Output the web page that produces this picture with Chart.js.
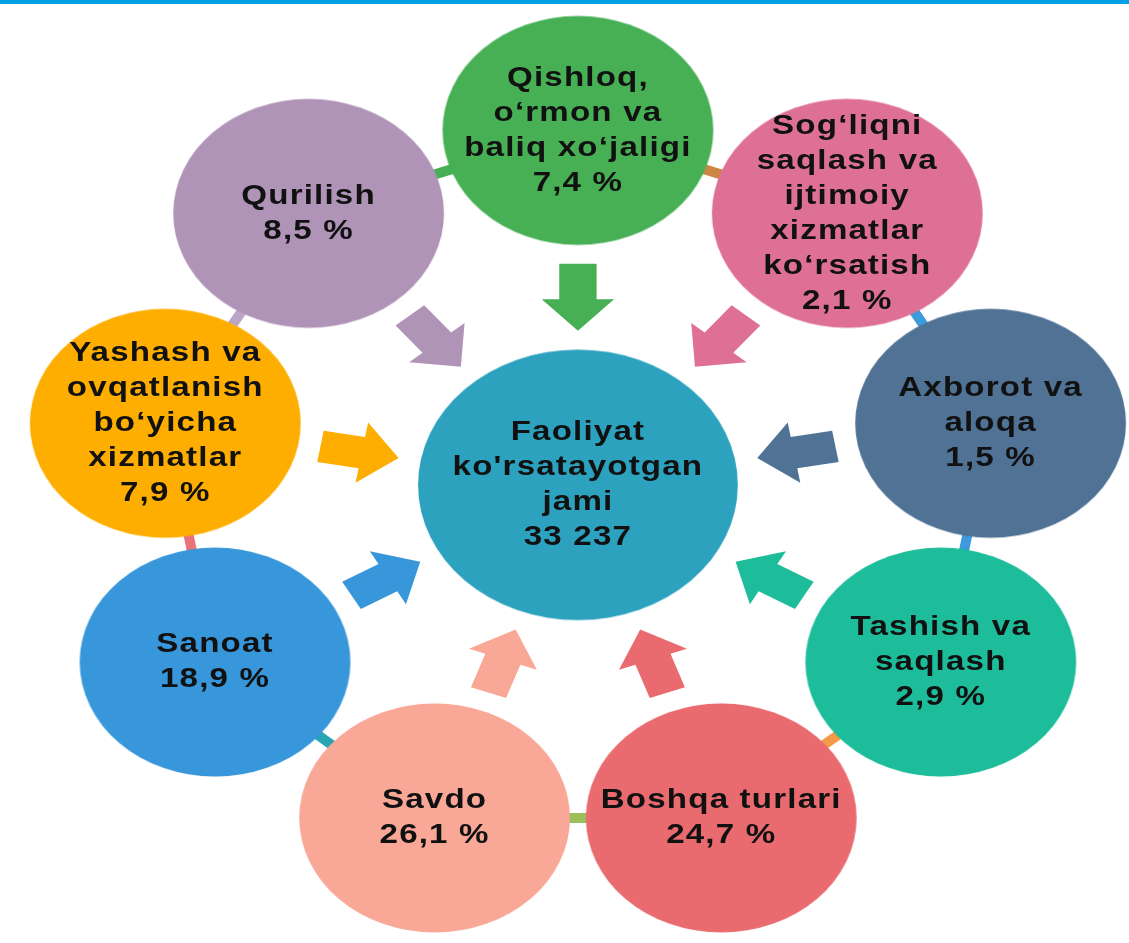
<!DOCTYPE html>
<html>
<head>
<meta charset="utf-8">
<script src="https://cdn.jsdelivr.net/npm/chart.js@4.4.1/dist/chart.umd.min.js"></script>
<style>
  html, body { margin: 0; padding: 0; background: #fff; }
  #wrap { position: relative; width: 1129px; height: 943px; }
  #topbar { position: absolute; left: 0; top: 0; width: 1129px; height: 4px; background: #04a0e6; z-index: 2; }
</style>
</head>
<body>
<div id="wrap">
  <div id="topbar"></div>
  <canvas id="chart"></canvas>
</div>
<script>
// data
const categories = [
  'Qishloq,\no‘rmon va\nbaliq xo‘jaligi',
  'Sog‘liqni\nsaqlash va\nijtimoiy\nxizmatlar\nko‘rsatish',
  'Axborot va\naloqa',
  'Tashish va\nsaqlash',
  'Boshqa turlari',
  'Savdo',
  'Sanoat',
  'Yashash va\novqatlanish\nbo‘yicha\nxizmatlar',
  'Qurilish'
];
const shares = [7.4, 2.1, 1.5, 2.9, 24.7, 26.1, 18.9, 7.9, 8.5];
const totalTitle = "Faoliyat\nko'rsatayotgan\njami";
const totalCount = 33237;

// styles
const nodeColors = ['#47b055', '#de7096', '#4f7295', '#1dbd9b', '#e96b6f', '#f9a797', '#3797da', '#feae00', '#b094b8'];
const linkColors = ['#cd8645', '#3b9bdc', '#3b9bdc', '#f49b48', '#9bbf5b', '#27a5b5', '#e8737a', '#bba5c6', '#47b055'];
const centerColor = '#2da2be';

// layout (data units, 1 unit = 1px vertically)
const RING = 359;
const NODE_R = 116;
const CENTER_R = 137;

//helpers
function fmtShare(v){
    return v.toFixed(1).replace('.', ',') + ' %';
}

function fmtCount(v){
    return String(v).replace(/\B(?=(\d{3})+(?!\d))/g, ' ');
}

function ringPoints(){
    let ans = [];
    let n = categories.length;
    for(let i = 0; i < n; i++){
        let a = i * 2 * Math.PI / n;
        ans.push({x: RING * Math.sin(a), y: RING * Math.cos(a)});
    }
    return ans;
}

function unit(scale){
    return Math.abs(scale.getPixelForValue(1) - scale.getPixelForValue(0));
}

const styleCache = {};
function ellipse(color, r, chart){
    if(!chart.scales || !chart.scales.x) return 'circle';
    let rx = r * unit(chart.scales.x), ry = r * unit(chart.scales.y);
    let key = color + rx.toFixed(2) + ry.toFixed(2);
    if(styleCache[key]) return styleCache[key];
    let c = document.createElement('canvas');
    c.width = Math.ceil(rx * 2) + 2;
    c.height = Math.ceil(ry * 2) + 2;
    let g = c.getContext('2d');
    g.fillStyle = color;
    g.beginPath();
    g.ellipse(c.width / 2, c.height / 2, rx, ry, 0, 0, Math.PI * 2);
    g.fill();
    styleCache[key] = c;
    return c;
}

// arrows pointing to the centre + texts
const overlay = {
    id: 'overlay',
    afterDatasetsDraw(chart){
        const ctx = chart.ctx;
        const xs = chart.scales.x, ys = chart.scales.y;
        const n = categories.length;
        const px = (x, y) => [xs.getPixelForValue(x), ys.getPixelForValue(y)];

        // arrows
        const shape = [[224, -16], [188, -16], [188, -31], [156, 0], [188, 31], [188, 16], [224, 16]];
        for(let i = 0; i < n; i++){
            let a = i * 2 * Math.PI / n;
            let dx = Math.sin(a), dy = Math.cos(a);
            ctx.save();
            ctx.fillStyle = nodeColors[i];
            ctx.beginPath();
            shape.forEach((p, k) => {
                let x = dx * p[0] + dy * p[1];
                let y = dy * p[0] - dx * p[1];
                let q = px(x, y);
                if(k === 0) ctx.moveTo(q[0], q[1]); else ctx.lineTo(q[0], q[1]);
            });
            ctx.closePath();
            ctx.fill();
            ctx.restore();
        }

        // texts
        const sx = unit(xs) / unit(ys);
        const lh = 35;
        function block(lines, cx, cy){
            ctx.save();
            ctx.font = 'bold 28px "Liberation Sans", Arial, sans-serif';
            ctx.fillStyle = '#111111';
            ctx.textAlign = 'center';
            ctx.textBaseline = 'middle';
            try { ctx.letterSpacing = '1px'; } catch(e) {}
            let top = cy - (lines.length - 1) * lh / 2;
            lines.forEach((t, k) => {
                ctx.save();
                ctx.translate(cx, top + k * lh);
                ctx.scale(sx, 1);
                ctx.fillText(t, 0, 0);
                ctx.restore();
            });
            ctx.restore();
        }
        const nodes = chart.getDatasetMeta(1).data;
        for(let i = 0; i < n; i++){
            let lines = categories[i].split('\n').concat([fmtShare(shares[i])]);
            block(lines, nodes[i].x, nodes[i].y);
        }
        const c = chart.getDatasetMeta(2).data[0];
        block(totalTitle.split('\n').concat([fmtCount(totalCount)]), c.x, c.y);
    }
};

function createChart(){
    const pts = ringPoints();
    const canvas = document.getElementById('chart');
    return new Chart(canvas, {
        type: 'scatter',
        data: {
            datasets: [
                {
                    label: 'links',
                    data: pts.concat([pts[0]]),
                    showLine: true,
                    pointRadius: 0,
                    borderWidth: 10,
                    borderColor: linkColors[0],
                    segment: { borderColor: c => linkColors[c.p0DataIndex % linkColors.length] },
                    clip: false,
                    order: 3
                },
                {
                    label: 'tarmoqlar',
                    data: pts,
                    pointRadius: 5,
                    pointStyle: c => c.dataIndex === undefined ? 'circle' : ellipse(nodeColors[c.dataIndex], NODE_R, c.chart),
                    clip: false,
                    order: 2
                },
                {
                    label: 'jami',
                    data: [{x: 0, y: 0}],
                    pointRadius: 5,
                    pointStyle: c => c.dataIndex === undefined ? 'circle' : ellipse(centerColor, CENTER_R, c.chart),
                    clip: false,
                    order: 1
                }
            ]
        },
        options: {
            responsive: true,
            maintainAspectRatio: false,
            animation: false,
            events: [],
            layout: { padding: 0 },
            plugins: { legend: { display: false }, tooltip: { enabled: false } },
            scales: {
                x: { type: 'linear', display: false, min: -490, max: 467 },
                y: { type: 'linear', display: false, min: -458, max: 485 }
            }
        },
        plugins: [overlay]
    });
}

let graf = createChart();
</script>
</body>
</html>
